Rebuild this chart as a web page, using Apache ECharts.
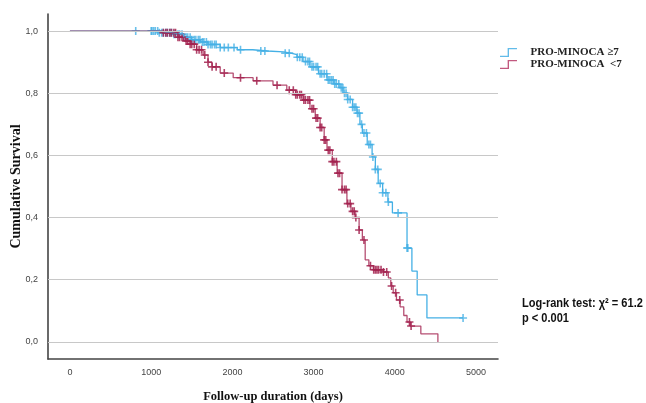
<!DOCTYPE html>
<html><head><meta charset="utf-8">
<script src="https://cdn.jsdelivr.net/npm/echarts@6/dist/echarts.min.js"></script>
<style>html,body{margin:0;padding:0;background:#fff}#c{width:646px;height:403px}</style>
</head><body><div id="c"></div>
<script>
const xTicks = [0, 1000, 2000, 3000, 4000, 5000];
const yTicks = [0, 0.2, 0.4, 0.6, 0.8, 1.0];
const seriesNames = ['PRO-MINOCA \u22657', 'PRO-MINOCA  <7'];
const highCurve = [[0,1],[1000,1],[1100,0.995],[1271,0.99],[1400,0.98],[1500,0.972],[1605,0.965],[1700,0.957],[1850,0.947],[2060,0.94],[2250,0.936],[2430,0.933],[2630,0.929],[2720,0.924],[2795,0.916],[2870,0.902],[2955,0.885],[3060,0.863],[3165,0.843],[3250,0.83],[3325,0.818],[3362,0.80],[3420,0.78],[3480,0.755],[3534,0.736],[3570,0.70],[3600,0.672],[3660,0.635],[3720,0.595],[3760,0.555],[3795,0.51],[3850,0.48],[3915,0.45],[3970,0.415],[4150,0.302],[4210,0.228],[4275,0.151],[4395,0.077],[4840,0.077]];
const lowCurve = [[0,1],[1000,1],[1150,0.995],[1330,0.98],[1420,0.968],[1480,0.958],[1560,0.94],[1640,0.923],[1700,0.9],[1750,0.885],[1850,0.865],[2010,0.85],[2255,0.84],[2500,0.826],[2670,0.81],[2780,0.795],[2870,0.778],[2955,0.75],[3020,0.72],[3080,0.69],[3130,0.65],[3165,0.617],[3230,0.58],[3290,0.543],[3350,0.49],[3410,0.445],[3460,0.42],[3510,0.40],[3560,0.36],[3600,0.328],[3635,0.264],[3680,0.245],[3735,0.232],[3855,0.225],[3920,0.206],[3950,0.18],[3980,0.158],[4020,0.135],[4065,0.113],[4110,0.085],[4150,0.064],[4190,0.051],[4320,0.026],[4530,0.0]];
const highCensor = [810,1000,1010,1030,1050,1080,1100,1130,1150,1180,1200,1230,1250,1280,1300,1330,1350,1380,1400,1430,1450,1480,1500,1530,1550,1580,1600,1630,1650,1680,1700,1730,1750,1780,1800,1850,1900,1950,2020,2100,2350,2400,2650,2700,2800,2830,2860,2900,2930,2950,2980,3000,3030,3050,3080,3100,3130,3160,3180,3200,3220,3240,3260,3280,3310,3340,3360,3380,3400,3420,3450,3480,3500,3520,3540,3560,3590,3620,3650,3680,3700,3730,3760,3790,3820,3850,3890,3920,4040,4150,4160,4840];
const lowCensor = [1150,1180,1200,1230,1250,1280,1300,1330,1350,1380,1400,1430,1450,1480,1500,1530,1560,1590,1620,1660,1700,1750,1800,1900,2100,2300,2550,2700,2750,2780,2800,2830,2850,2880,2900,2930,2950,2980,3000,3030,3050,3080,3100,3130,3150,3180,3200,3230,3250,3280,3300,3320,3350,3380,3400,3420,3450,3480,3500,3520,3560,3620,3700,3740,3760,3780,3800,3830,3860,3900,3960,4010,4060,4180,4200];

function survAt(curve, t){ let s = curve[0][1]; for (const p of curve){ if (p[0] <= t) s = p[1]; else break; } return s; }
const plus = 'path://M4,0h2v10h-2zM0,4h10v2h-10z';
const blue = '#45b0e5', red = '#a3224f';
const legendIcon = 'path://M0,9h9v-9h11v1.6h-9.4v9h-10.6z';
const chart = echarts.init(document.getElementById('c'), null, {renderer:'canvas'});
chart.setOption({
  animation:false,
  grid:{left:48,right:148,top:14,bottom:44, containLabel:false, outerBoundsMode:'none'},
  legend:{
    orient:'vertical', left:500, top:47, padding:0, itemGap:1, itemWidth:20, itemHeight:9,
    textStyle:{fontFamily:'Liberation Serif', fontWeight:'bold', fontSize:11, color:'#222', padding:[0,0,0,7]},
    data:[
      {name:seriesNames[0], icon:legendIcon, itemStyle:{color:'#62bbe9'}},
      {name:seriesNames[1], icon:legendIcon, itemStyle:{color:'#c2597f'}}
    ]
  },
  xAxis:{type:'value', min:-270, max:5270,
    name:'Follow-up duration (days)', nameLocation:'middle', nameGap:31, nameMoveOverlap:false,
    nameTextStyle:{fontFamily:'Liberation Serif', fontWeight:'bold', fontSize:12.5, color:'#111'},
    axisLine:{show:true, onZero:false, lineStyle:{color:'#444', width:1.6}},
    axisTick:{show:false, customValues:xTicks},
    axisLabel:{customValues:xTicks, margin:9, fontFamily:'Liberation Sans', fontSize:9, color:'#444', formatter:v=>String(v)},
    splitLine:{show:false}},
  yAxis:{type:'value', min:-0.055, max:1.055,
    name:'Cumulative Survival', nameLocation:'middle', nameGap:25, nameRotate:90, nameMoveOverlap:false,
    nameTextStyle:{fontFamily:'Liberation Serif', fontWeight:'bold', fontSize:14, color:'#111'},
    axisLine:{show:true, onZero:false, lineStyle:{color:'#444', width:1.6}},
    axisTick:{show:false, customValues:yTicks},
    axisLabel:{customValues:yTicks, margin:10, fontFamily:'Liberation Sans', fontSize:9, color:'#444',
      formatter:v=>v.toFixed(1).replace('.',',')},
    splitLine:{show:false}},
  series:[
    {type:'line', name:'grid', silent:true, data:[], markLine:{silent:true, symbol:'none', label:{show:false},
      lineStyle:{color:'#c8c8c8', width:1.2, type:'solid'}, data:yTicks.map(v=>({yAxis:v}))}},
    {type:'line', name:seriesNames[0], data:highCurve, step:'end', showSymbol:false, symbol:'none',
      lineStyle:{color:blue, width:1.3}, itemStyle:{color:blue}},
    {type:'line', name:seriesNames[1], data:lowCurve, step:'end', showSymbol:false, symbol:'none',
      lineStyle:{color:red, width:1.3, opacity:0.8}, itemStyle:{color:red}},
    {type:'scatter', name:seriesNames[0], data:highCensor.map(t=>[t, survAt(highCurve,t)]), symbol:plus, symbolSize:8,
      itemStyle:{color:blue}},
    {type:'scatter', name:seriesNames[1], data:lowCensor.map(t=>[t, survAt(lowCurve,t)]), symbol:plus, symbolSize:8,
      itemStyle:{color:red, opacity:0.85}}
  ],
  graphic:[
    {type:'text', left:522, top:297, scaleX:0.85, style:{text:'Log-rank test: \u03c7\u00b2 = 61.2', font:'bold 13px "Liberation Sans", sans-serif', fill:'#111'}},
    {type:'text', left:522, top:312, scaleX:0.85, style:{text:'p < 0.001', font:'bold 13px "Liberation Sans", sans-serif', fill:'#111'}}
  ]
});
</script></body></html>
